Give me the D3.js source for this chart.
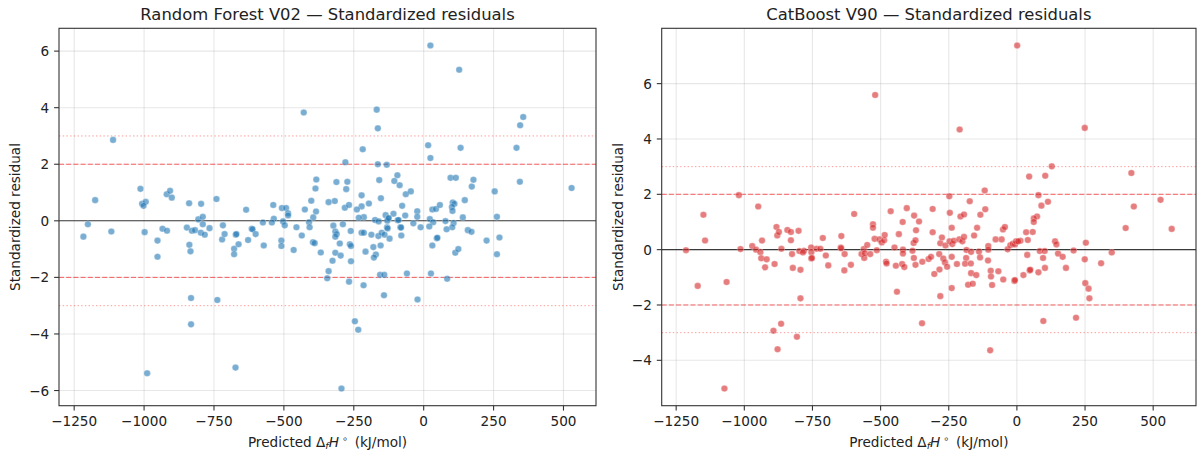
<!DOCTYPE html>
<html>
<head>
<meta charset="utf-8">
<script src="https://cdn.jsdelivr.net/npm/d3@7"></script>
<style>
  body { margin: 0; background: #fff; }
  svg text { font-family: "DejaVu Sans", sans-serif; fill: #222; }
</style>
</head>
<body>
<svg id="chart" width="1198" height="457"></svg>
<script>
// Random Forest V02 : predicted value and standardized residual
const rfPred = [-1111,-1175,-1013,-1007,-994,-1002,-919,-907,-901,-839,-796,-741,-806,-790,-635,-538,-536,-507,-492,-485,-485,-429,-425,-402,-387,-384,-385,-395,-410,
  -1217,-1201,-1117,-998,-989,-952,-952,-934,-918,-847,-838,-834,-832,-832,-829,-818,-790,-797,-783,-766,-738,-721,-718,-712,-678,-678,-672,-670,-662,-673,-628,-615,-612,-601,-575,-572,-543,-509,-509,-503,-497,-465,-455,-436,-408,-396,-368,
  24,127,-168,-164,-218,-280,-164,-132,16,24,132,332,345,356,344,529,254,262,-312,-273,-277,-340,-318,-282,-267,-222,-222,-239,-196,-153,-159,-105,-94,-86,-64,-46,-77,-66,-108,-136,-127,-214,-232,-23,-23,31,44,58,96,115,172,178,147,104,110,101,103,140,22,
  -174,-161,-130,-125,-93,-90,-37,-11,34,20,78,107,102,82,-323,-289,-316,-311,-316,-261,-222,-214,-187,-162,-150,-140,-131,-129,-122,-83,-81,-80,-390,-326,-316,-300,-297,-340,-345,-267,-264,-260,-260,-215,-208,-180,-171,-178,-154,-156,-141,-142,-246,-234,-294,-60,-22,31,26,47,49,84,113,124,158,171,225,262,271];
const rfResid = [2.86,0.73,1.13,0.6,0.67,0.53,0.94,1.06,0.82,0.62,0.6,0.77,0.05,0.14,0.39,0.56,0.07,0.45,0.45,0.27,0.19,3.83,0.4,0.71,1.14,1.46,0.33,0.12,-0.05,
  -0.56,-0.12,-0.38,-0.4,-5.39,-0.7,-1.27,-0.28,-0.35,-0.24,-0.85,-1.08,-2.73,-3.66,-0.35,-0.33,-0.12,-0.42,-0.49,-0.26,-2.8,-0.66,-0.16,-0.47,-0.99,-1.18,-0.49,-0.47,-0.83,-5.19,-0.68,-0.28,-0.3,-0.47,-0.06,-0.87,-0.06,-0.7,-0.89,-0.02,-0.16,-1.03,-0.23,-0.52,-0.23,-0.76,-1.12,
  6.2,5.34,3.93,3.27,2.53,2.07,2.0,1.98,2.67,2.22,2.58,2.58,3.38,3.67,1.38,1.16,1.04,0.14,1.37,1.38,1.12,0.66,0.7,0.46,0.56,0.9,0.51,0.4,0.61,0.8,1.44,1.41,1.61,1.26,0.94,1.04,0.53,0.19,0.25,0.2,0.07,0.13,0.11,0.34,0.14,0.4,0.42,0.56,1.52,1.52,1.21,1.45,0.73,0.65,0.6,0.49,0.35,0.12,0.06,
  0.03,-0.02,0.0,0.1,0.02,0.03,-0.09,-0.23,-0.05,-0.2,-0.01,-0.08,-0.23,-0.3,-0.17,-0.12,-0.38,-0.47,-0.56,-0.36,-0.42,-0.42,-0.49,-0.54,-0.42,-0.49,-0.23,-0.27,-0.63,-0.23,-0.24,-0.52,-0.79,-1.41,-1.13,-0.8,-1.23,-1.78,-2.03,-2.15,-0.83,-0.89,-1.43,-2.28,-1.09,-0.93,-1.19,-1.3,-0.87,-1.91,-1.91,-2.63,-3.55,-3.85,-5.93,-1.86,-2.78,-0.87,-1.86,-0.62,-0.6,-2.05,-1.13,-1.0,-0.33,-0.39,-0.7,-1.18,-0.59];

// CatBoost V90 : predicted value and standardized residual
const cbPred = [-1150,-1020,-949,-520,-597,-528,-463,-404,-419,-377,
  1,-210,249,128,45,104,420,-118,-248,79,-173,90,114,429,527,-309,-359,-246,-207,-194,-134,-116,74,62,62,
  -1214,-1171,-1144,-1065,-1073,-1014,-971,-957,-941,-938,-935,-918,-924,-889,-882,-879,-873,-864,-893,-865,-878,-842,-829,-829,-825,-822,-801,-798,-794,-794,-807,-781,-785,-755,-754,-754,-752,-735,-721,-712,-701,-692,-646,-645,-644,-633,-632,-609,-570,-562,-560,-558,-549,-538,-528,-522,-514,-504,-496,-487,-485,-480,-478,-449,-444,-440,-433,-421,-418,-418,-413,-383,-379,-378,-372,-372,-370,
  -347,-348,-324,-315,-309,-303,-285,-284,-281,-275,-281,-270,-264,-262,-256,-247,-237,-231,-239,-239,-239,-220,-211,-200,-194,-185,-186,-190,-169,-168,-179,-162,-168,-157,-149,-146,-139,-135,-105,-105,-106,-98,-96,-95,-91,-78,-56,-68,-50,-51,-44,-34,-24,-15,-7,-3,13,5,-9,-7,24,34,38,40,47,49,58,79,84,102,96,103,97,140,145,151,168,180,208,217,249,253,251,263,266,309,348,399,568];
const cbResid = [1.26,1.97,1.56,5.59,1.29,0.92,1.39,1.5,1.0,1.23,
  7.38,4.34,4.4,3.01,2.64,2.67,2.77,2.14,1.93,1.97,1.75,1.59,1.73,1.56,1.8,1.47,1.02,1.33,1.2,1.27,1.26,1.46,1.2,1.13,1.0,
  -0.02,-1.31,0.33,-1.17,-5.02,0.02,0.13,0.0,-0.09,-0.31,0.33,-0.35,-0.64,-0.52,0.82,0.51,0.64,0.03,-2.93,-2.68,-3.6,0.71,0.64,0.34,-0.16,-0.66,0.68,-0.05,-0.73,-1.76,-3.15,-0.04,-0.1,0.08,-0.09,-0.32,-0.3,0.03,0.03,0.42,-0.21,-0.57,0.08,0.05,0.49,-0.75,-0.16,-0.55,-0.16,0.02,-0.3,-0.13,0.17,-0.16,0.79,0.39,-0.02,0.37,0.26,0.34,0.53,-0.44,-0.5,0.08,-0.58,-1.52,0.56,-0.52,0.0,-0.14,-0.63,-0.04,0.24,-0.3,0.34,-0.55,0.7,
  -0.44,-2.66,-0.34,-0.26,0.63,-0.88,-0.16,-0.72,0.23,0.44,-1.68,-0.32,-0.46,0.15,-0.62,0.3,0.2,0.32,0.79,-0.26,-1.39,-0.52,0.37,0.3,0.46,-0.01,-0.3,-0.51,-0.5,-0.85,-1.27,-1.23,-0.08,0.51,-0.92,0.79,-0.07,-0.28,0.13,0.0,-0.39,-3.64,-0.76,-0.97,-1.28,0.37,0.37,-0.78,-1.08,0.73,0.82,0.01,0.16,0.21,0.19,0.3,0.32,0.3,-1.13,-1.1,-0.92,0.63,-0.19,0.35,-0.75,-0.73,0.64,-0.82,-0.05,-0.05,-0.3,-0.66,-2.58,0.3,0.19,-0.14,-0.26,-0.66,-0.03,-2.46,-0.35,0.25,-1.21,-1.41,-1.76,-0.49,-0.1,0.78,0.75];

const xTicks = [-1250, -1000, -750, -500, -250, 0, 250, 500];
const rfYTicks = [-6, -4, -2, 0, 2, 4, 6];
const cbYTicks = [-4, -2, 0, 2, 4, 6];
const dashedLevels = [-2, 2];
const dottedLevels = [-3, 3];

const svg = d3.select("#chart");
const fmt = d => d < 0 ? "\u2212" + Math.abs(d) : String(d);

// matplotlib style 5% margins around the data
function padded(vals) {
  let [lo, hi] = d3.extent(vals);
  let m = (hi - lo) * 0.05;
  return [lo - m, hi + m];
}

function drawPanel(p) {
  let g = svg.append("g");
  let x = d3.scaleLinear().domain(padded(p.xs)).range([p.left, p.right]);
  let y = d3.scaleLinear().domain(padded(p.ys)).range([p.bottom, p.top]);

  //grid
  g.selectAll(".gx").data(p.xTicks).enter().append("line")
    .attr("x1", d => x(d)).attr("x2", d => x(d))
    .attr("y1", p.top).attr("y2", p.bottom)
    .attr("stroke", "#b0b0b0").attr("stroke-opacity", 0.3).attr("stroke-width", 1.1);
  g.selectAll(".gy").data(p.yTicks).enter().append("line")
    .attr("x1", p.left).attr("x2", p.right)
    .attr("y1", d => y(d)).attr("y2", d => y(d))
    .attr("stroke", "#b0b0b0").attr("stroke-opacity", 0.3).attr("stroke-width", 1.1);

  //reference lines
  g.append("line")
    .attr("x1", p.left).attr("x2", p.right).attr("y1", y(0)).attr("y2", y(0))
    .attr("stroke", "#000").attr("stroke-opacity", 0.75).attr("stroke-width", 1.1);
  g.selectAll(".dash").data(dashedLevels).enter().append("line")
    .attr("x1", p.left).attr("x2", p.right)
    .attr("y1", d => y(d)).attr("y2", d => y(d))
    .attr("stroke", "red").attr("stroke-opacity", 0.6).attr("stroke-width", 1)
    .attr("stroke-dasharray", "5,2.2");
  g.selectAll(".dot").data(dottedLevels).enter().append("line")
    .attr("x1", p.left).attr("x2", p.right)
    .attr("y1", d => y(d)).attr("y2", d => y(d))
    .attr("stroke", "red").attr("stroke-opacity", 0.4).attr("stroke-width", 1)
    .attr("stroke-dasharray", "1.4,2.3");

  //points
  g.selectAll("circle").data(d3.range(p.xs.length)).enter().append("circle")
    .attr("cx", i => x(p.xs[i])).attr("cy", i => y(p.ys[i]))
    .attr("r", 3.3)
    .attr("fill", p.color).attr("fill-opacity", 0.6)
    .attr("stroke", "#fff").attr("stroke-opacity", 0.6).attr("stroke-width", 0.5);

  //frame
  g.append("rect")
    .attr("x", p.left).attr("y", p.top)
    .attr("width", p.right - p.left).attr("height", p.bottom - p.top)
    .attr("fill", "none").attr("stroke", "#333").attr("stroke-width", 1.1);

  //x ticks
  let xt = g.selectAll(".xt").data(p.xTicks).enter().append("g");
  xt.append("line")
    .attr("x1", d => x(d)).attr("x2", d => x(d))
    .attr("y1", p.bottom).attr("y2", p.bottom + 4.9)
    .attr("stroke", "#333").attr("stroke-width", 1.1);
  xt.append("text")
    .attr("x", d => x(d)).attr("y", p.bottom + 20.3)
    .attr("text-anchor", "middle").attr("font-size", 13.6)
    .text(fmt);

  //y ticks
  let yt = g.selectAll(".yt").data(p.yTicks).enter().append("g");
  yt.append("line")
    .attr("x1", p.left - 4.9).attr("x2", p.left)
    .attr("y1", d => y(d)).attr("y2", d => y(d))
    .attr("stroke", "#333").attr("stroke-width", 1.1);
  yt.append("text")
    .attr("x", p.left - 9.8).attr("y", d => y(d) + 5)
    .attr("text-anchor", "end").attr("font-size", 13.6)
    .text(fmt);

  //title
  g.append("text")
    .attr("x", (p.left + p.right) / 2).attr("y", p.top - 8.5)
    .attr("text-anchor", "middle").attr("font-size", 16.4)
    .text(p.title);

  //x label
  let xl = g.append("text")
    .attr("x", (p.left + p.right) / 2).attr("y", p.bottom + 41)
    .attr("text-anchor", "middle").attr("font-size", 13.6);
  xl.append("tspan").text("Predicted \u0394");
  xl.append("tspan").attr("font-style", "italic").attr("font-size", 9.5).attr("dy", 2.5).text("f");
  xl.append("tspan").attr("font-style", "italic").attr("dy", -2.5).text("H");
  xl.append("tspan").attr("font-size", 9.5).attr("dy", -5).text(" \u2218");
  xl.append("tspan").attr("dy", 5).text("\u2002(kJ/mol)");

  //y label
  g.append("text")
    .attr("transform", `translate(${p.left - 39},${(p.top + p.bottom) / 2}) rotate(-90)`)
    .attr("text-anchor", "middle").attr("font-size", 13.6)
    .text("Standardized residual");
}

drawPanel({
  xs: rfPred, ys: rfResid, xTicks: xTicks, yTicks: rfYTicks,
  left: 59, right: 596, top: 28.3, bottom: 405.7,
  color: "#1f77b4", title: "Random Forest V02 \u2014 Standardized residuals"
});
drawPanel({
  xs: cbPred, ys: cbResid, xTicks: xTicks, yTicks: cbYTicks,
  left: 661.7, right: 1196, top: 28.3, bottom: 405.7,
  color: "#d62728", title: "CatBoost V90 \u2014 Standardized residuals"
});
</script>
</body>
</html>
